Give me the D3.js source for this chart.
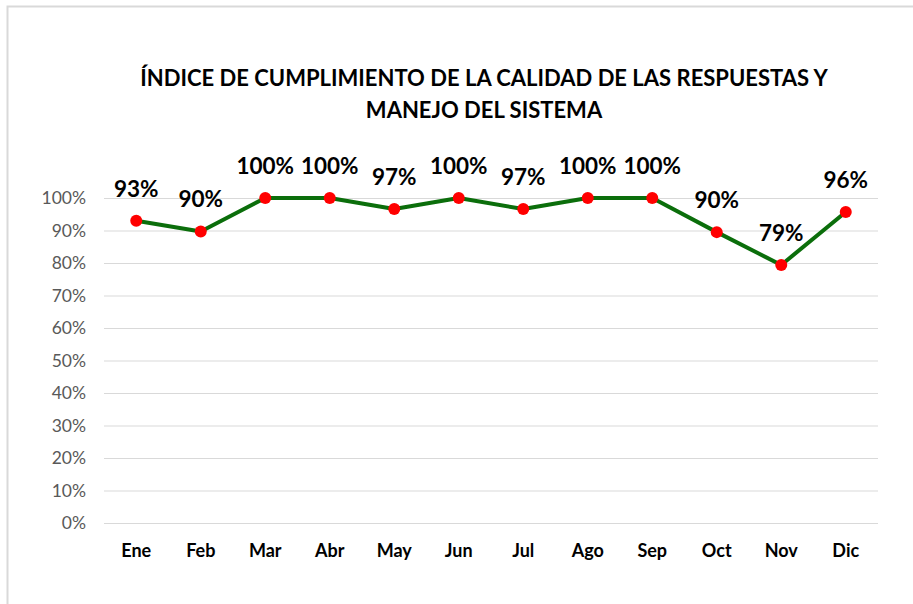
<!DOCTYPE html>
<html>
<head>
<meta charset="utf-8">
<script src="https://cdn.jsdelivr.net/npm/d3@7"></script>
<style>
  body { margin: 0; background: #fff; }
  svg { display: block; font-family: Lato, "Open Sans", sans-serif; }
</style>
</head>
<body>
<svg width="913" height="604"></svg>
<script>
const meses = ["Ene", "Feb", "Mar", "Abr", "May", "Jun", "Jul", "Ago", "Sep", "Oct", "Nov", "Dic"];
const indice = [0.93, 0.897, 1, 1, 0.966, 1, 0.966, 1, 1, 0.895, 0.794, 0.957];
const ticksY = [0, 0.1, 0.2, 0.3, 0.4, 0.5, 0.6, 0.7, 0.8, 0.9, 1];
const titulo = ["ÍNDICE DE CUMPLIMIENTO DE LA CALIDAD DE LAS RESPUESTAS Y", "MANEJO DEL SISTEMA"];

const svg = d3.select("svg");
const margin = { left: 104, right: 35, top: 198, bottom: 81 };
const width = 913 - margin.left - margin.right;
const height = 604 - margin.top - margin.bottom;

// cadre du graphique
svg.append("path")
  .attr("d", "M7.5,604 V6.5 H913")
  .attr("fill", "none")
  .attr("stroke", "#d9d9d9")
  .attr("stroke-width", 2);

// titre
svg.selectAll(".titre")
  .data(titulo)
  .join("text")
  .attr("class", "titre")
  .attr("x", 484)
  .attr("y", (d, i) => 86 + i * 32)
  .attr("text-anchor", "middle")
  .attr("font-size", 22)
  .attr("font-weight", "bold")
  .attr("fill", "#000")
  .text(d => d);

const g = svg.append("g").attr("transform", `translate(${margin.left},${margin.top})`);

const x = d3.scaleBand().domain(meses).range([0, width]);
const y = d3.scaleLinear().domain([0, 1]).range([height, 0]);

// grille + axe Y
const axeY = g.append("g")
  .call(d3.axisLeft(y).tickValues(ticksY).tickFormat(d3.format(".0%")).tickSize(-width).tickPadding(18));
axeY.select(".domain").remove();
axeY.selectAll(".tick line").attr("stroke", "#d9d9d9").attr("stroke-width", 1);
axeY.selectAll(".tick text")
  .attr("font-size", 17.5)
  .attr("fill", "#595959")
  .attr("font-family", "Lato, sans-serif");

// axe X
const axeX = g.append("g")
  .attr("transform", `translate(0,${height})`)
  .call(d3.axisBottom(x).tickSize(0).tickPadding(21));
axeX.select(".domain").remove();
axeX.selectAll(".tick text")
  .attr("font-size", 18)
  .attr("font-weight", "bold")
  .attr("fill", "#000")
  .attr("font-family", "Lato, sans-serif");

const cx = d => x(d) + x.bandwidth() / 2;

// ligne
const ligne = d3.line()
  .x((d, i) => cx(meses[i]))
  .y(d => y(d));

g.append("path")
  .datum(indice)
  .attr("d", ligne)
  .attr("fill", "none")
  .attr("stroke", "#0b6e0b")
  .attr("stroke-width", 4)
  .attr("stroke-linejoin", "round");

// points
g.selectAll(".point")
  .data(indice)
  .join("circle")
  .attr("class", "point")
  .attr("cx", (d, i) => cx(meses[i]))
  .attr("cy", d => y(d))
  .attr("r", 6)
  .attr("fill", "#ff0000");

// étiquettes
g.selectAll(".etiquette")
  .data(indice)
  .join("text")
  .attr("class", "etiquette")
  .attr("x", (d, i) => cx(meses[i]))
  .attr("y", d => y(d) - 24)
  .attr("text-anchor", "middle")
  .attr("font-size", 22.5)
  .attr("font-weight", "bold")
  .attr("fill", "#000")
  .text(d => d3.format(".0%")(d));
</script>
</body>
</html>
